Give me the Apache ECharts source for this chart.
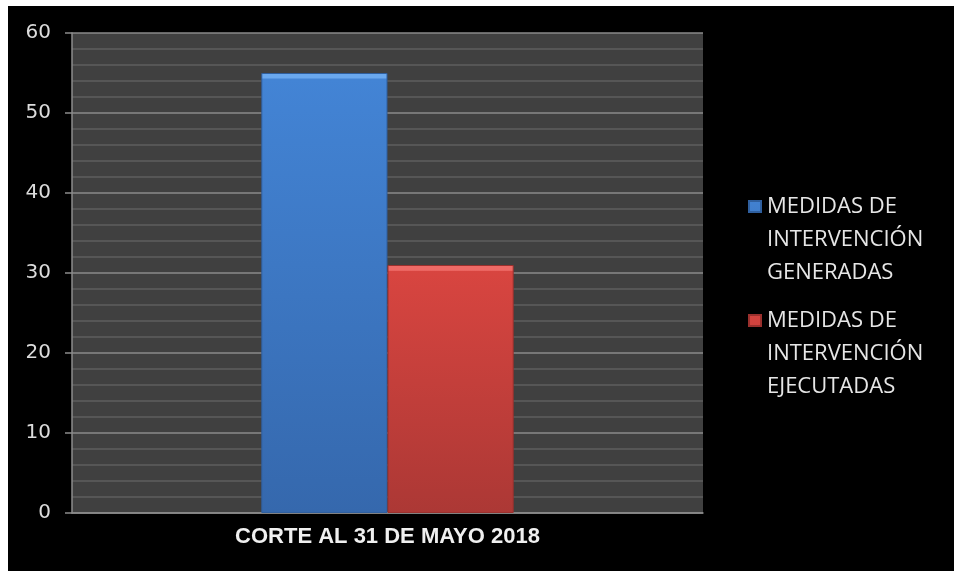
<!DOCTYPE html>
<html>
<head>
<meta charset="utf-8">
<script src="https://cdn.jsdelivr.net/npm/echarts@6/dist/echarts.min.js"></script>
<style>
html,body{margin:0;padding:0;background:#ffffff;}
#chart{position:absolute;left:8px;top:6px;width:946px;height:565px;}
</style>
</head>
<body>
<div id="chart"></div>
<script>
const categories = ['CORTE AL 31 DE MAYO 2018'];
const seriesNames = ['MEDIDAS DE\nINTERVENCIÓN\nGENERADAS', 'MEDIDAS DE\nINTERVENCIÓN\nEJECUTADAS'];
const generadas = [55];
const ejecutadas = [31];
const yTicks = [0, 10, 20, 30, 40, 50, 60];

const chart = echarts.init(document.getElementById('chart'));
const bevel = (light, top, bottom, edge) => new echarts.graphic.LinearGradient(0, 0, 0, 1, [
  {offset: 0, color: light}, {offset: edge, color: light}, {offset: edge + 0.001, color: top}, {offset: 1, color: bottom}
]);
// square icon placed at the top of a tall box so it lines up with the first text line
const legendIcon = 'path://M0,11L12,11L12,22L0,22Z M0,0L0,0 M0,99L0,99';
chart.setOption({
  backgroundColor: '#000000',
  animation: false,
  grid: {left: 64, top: 27, width: 631, height: 480, show: true, backgroundColor: '#404040', borderWidth: 0},
  legend: {
    orient: 'vertical',
    left: 740,
    top: 183,
    padding: 0,
    icon: legendIcon,
    itemWidth: 12,
    itemHeight: 99,
    itemGap: 13,
    textStyle: {
      color: '#e6e6e6',
      fontFamily: 'Open Sans',
      fontSize: 22,
      lineHeight: 33,
      padding: [0, 0, 0, 1]
    },
    data: seriesNames
  },
  xAxis: {
    type: 'category',
    data: categories,
    axisLine: {show: true, lineStyle: {color: '#8c8c8c', width: 1.5}},
    axisTick: {show: false},
    axisLabel: {color: '#f0f0f0', fontFamily: 'Liberation Sans', fontWeight: 'bold', fontSize: 22, margin: 13}
  },
  yAxis: {
    type: 'value',
    min: yTicks[0],
    max: yTicks[yTicks.length - 1],
    interval: 10,
    axisLine: {show: true, lineStyle: {color: '#8c8c8c', width: 1.5}},
    axisTick: {show: true, length: 7, lineStyle: {color: '#8c8c8c', width: 1.5}},
    axisLabel: {color: '#dcdcdc', fontFamily: 'DejaVu Sans', fontSize: 20, margin: 21},
    splitLine: {show: true, lineStyle: {color: '#8a8a8a', width: 1.5}},
    minorTick: {show: false, splitNumber: 5},
    minorSplitLine: {show: true, lineStyle: {color: '#5e5e5e', width: 1.5}}
  },
  series: [
    {
      name: seriesNames[0], type: 'bar', data: generadas,
      barGap: '0%', barCategoryGap: '60%',
      itemStyle: {color: bevel('#6aa8ee', '#4384d5', '#3568ad', 0.012), borderColor: '#2f5f9e', borderWidth: 1}
    },
    {
      name: seriesNames[1], type: 'bar', data: ejecutadas,
      itemStyle: {color: bevel('#ee6a66', '#d84540', '#ac3835', 0.022), borderColor: '#9a302d', borderWidth: 1}
    }
  ]
});
</script>
</body>
</html>
